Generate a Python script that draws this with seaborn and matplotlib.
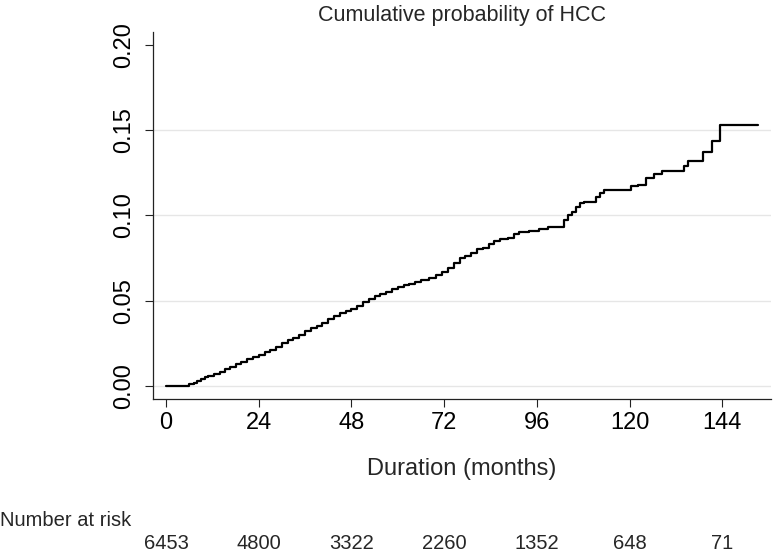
import matplotlib
matplotlib.use('Agg')
import matplotlib.pyplot as plt
import seaborn as sns
import pandas as pd

# Cumulative probability step curve
months = [0, 6.0, 7.2, 8.0, 9.0, 10.0, 11.0, 12.5, 14.0, 15.2, 16.5, 18.0, 19.5,
          21.0, 22.5, 24.0, 25.5, 27.0, 28.5, 30.0, 31.5, 33.0, 34.5, 36.0, 37.5,
          39.0, 40.5, 42.0, 43.5, 45.0, 46.5, 48.0, 49.5, 51.0, 52.5, 54.0, 55.5,
          57.0, 58.5, 60.0, 61.5, 63.0, 64.5, 66.0, 68.0, 70.0, 71.5, 73.0, 74.5,
          76.0, 77.5, 79.0, 80.5, 82.0, 83.5, 85.0, 86.5, 88.5, 90.0, 91.5, 94.0,
          96.5, 99.0, 103.0, 104.0, 105.0, 106.2, 107.2, 108.2, 111.3, 112.3,
          113.5, 120.3, 122.2, 124.2, 126.2, 128.4, 134.2, 135.1, 139.0, 141.3,
          143.3, 153.3]
cum_prob = [0.000, 0.001, 0.002, 0.003, 0.004, 0.005, 0.006, 0.007, 0.008, 0.010,
            0.011, 0.013, 0.014, 0.016, 0.017, 0.018, 0.020, 0.021, 0.023, 0.025,
            0.027, 0.028, 0.030, 0.032, 0.034, 0.035, 0.037, 0.039, 0.041, 0.043,
            0.044, 0.045, 0.047, 0.049, 0.051, 0.053, 0.054, 0.055, 0.057, 0.058,
            0.059, 0.060, 0.061, 0.062, 0.063, 0.065, 0.067, 0.069, 0.072, 0.075,
            0.076, 0.078, 0.080, 0.081, 0.083, 0.085, 0.086, 0.087, 0.089, 0.090,
            0.091, 0.092, 0.093, 0.097, 0.100, 0.102, 0.105, 0.107, 0.108, 0.111,
            0.113, 0.115, 0.117, 0.118, 0.122, 0.124, 0.126, 0.129, 0.132, 0.137,
            0.1435, 0.153, 0.153]

x_ticks = [0, 24, 48, 72, 96, 120, 144]
y_ticks = [0.00, 0.05, 0.10, 0.15, 0.20]
at_risk = [6453, 4800, 3322, 2260, 1352, 648, 71]

df = pd.DataFrame({'months': months, 'prob': cum_prob})

sns.set_theme(style='ticks')
plt.rcParams['font.family'] = ['Liberation Sans', 'DejaVu Sans']

fig = plt.figure(figsize=(7.74, 5.52), dpi=100)
ax = fig.add_axes([0.1973, 0.2763, 0.7988, 0.6663])

sns.lineplot(data=df, x='months', y='prob', ax=ax, color='black',
             linewidth=1.6, drawstyle='steps-post', estimator=None)

ax.set_xlim(-3.44, 156.6)
ax.set_ylim(-0.0079, 0.2076)
ax.set_xticks(x_ticks)
ax.set_yticks(y_ticks)
ax.set_yticklabels([f'{v:.2f}' for v in y_ticks])

ax.grid(axis='y', color='#e6e6e6', linewidth=1.0)
ax.yaxis.get_gridlines()[-1].set_visible(False)
ax.set_axisbelow(True)

for side in ['top', 'right']:
    ax.spines[side].set_visible(False)
for side in ['left', 'bottom']:
    ax.spines[side].set_color('#222222')
    ax.spines[side].set_linewidth(0.9)

ax.tick_params(axis='both', direction='out', length=6, width=0.8,
               color='#222222', labelsize=17, labelcolor='black')
ax.tick_params(axis='x', pad=3)
ax.tick_params(axis='y', pad=7, labelrotation=90)
for lab in ax.get_yticklabels():
    lab.set_va('center')

ax.set_title('Cumulative probability of HCC', fontsize=15.5, pad=8)
ax.set_xlabel('Duration (months)', fontsize=17, va='center')
ax.xaxis.set_label_coords(0.5, -0.189)
ax.set_ylabel('')

# Number at risk table
fig.text(0.0, 1 - 520 / 552, 'Number at risk', ha='left', va='center', fontsize=14.5)
for t, n in zip(x_ticks, at_risk):
    ax.text(t, -0.3927, str(n), transform=ax.get_xaxis_transform(),
            ha='center', va='center', fontsize=14.5, clip_on=False)

fig.savefig('out.png', dpi=100)
